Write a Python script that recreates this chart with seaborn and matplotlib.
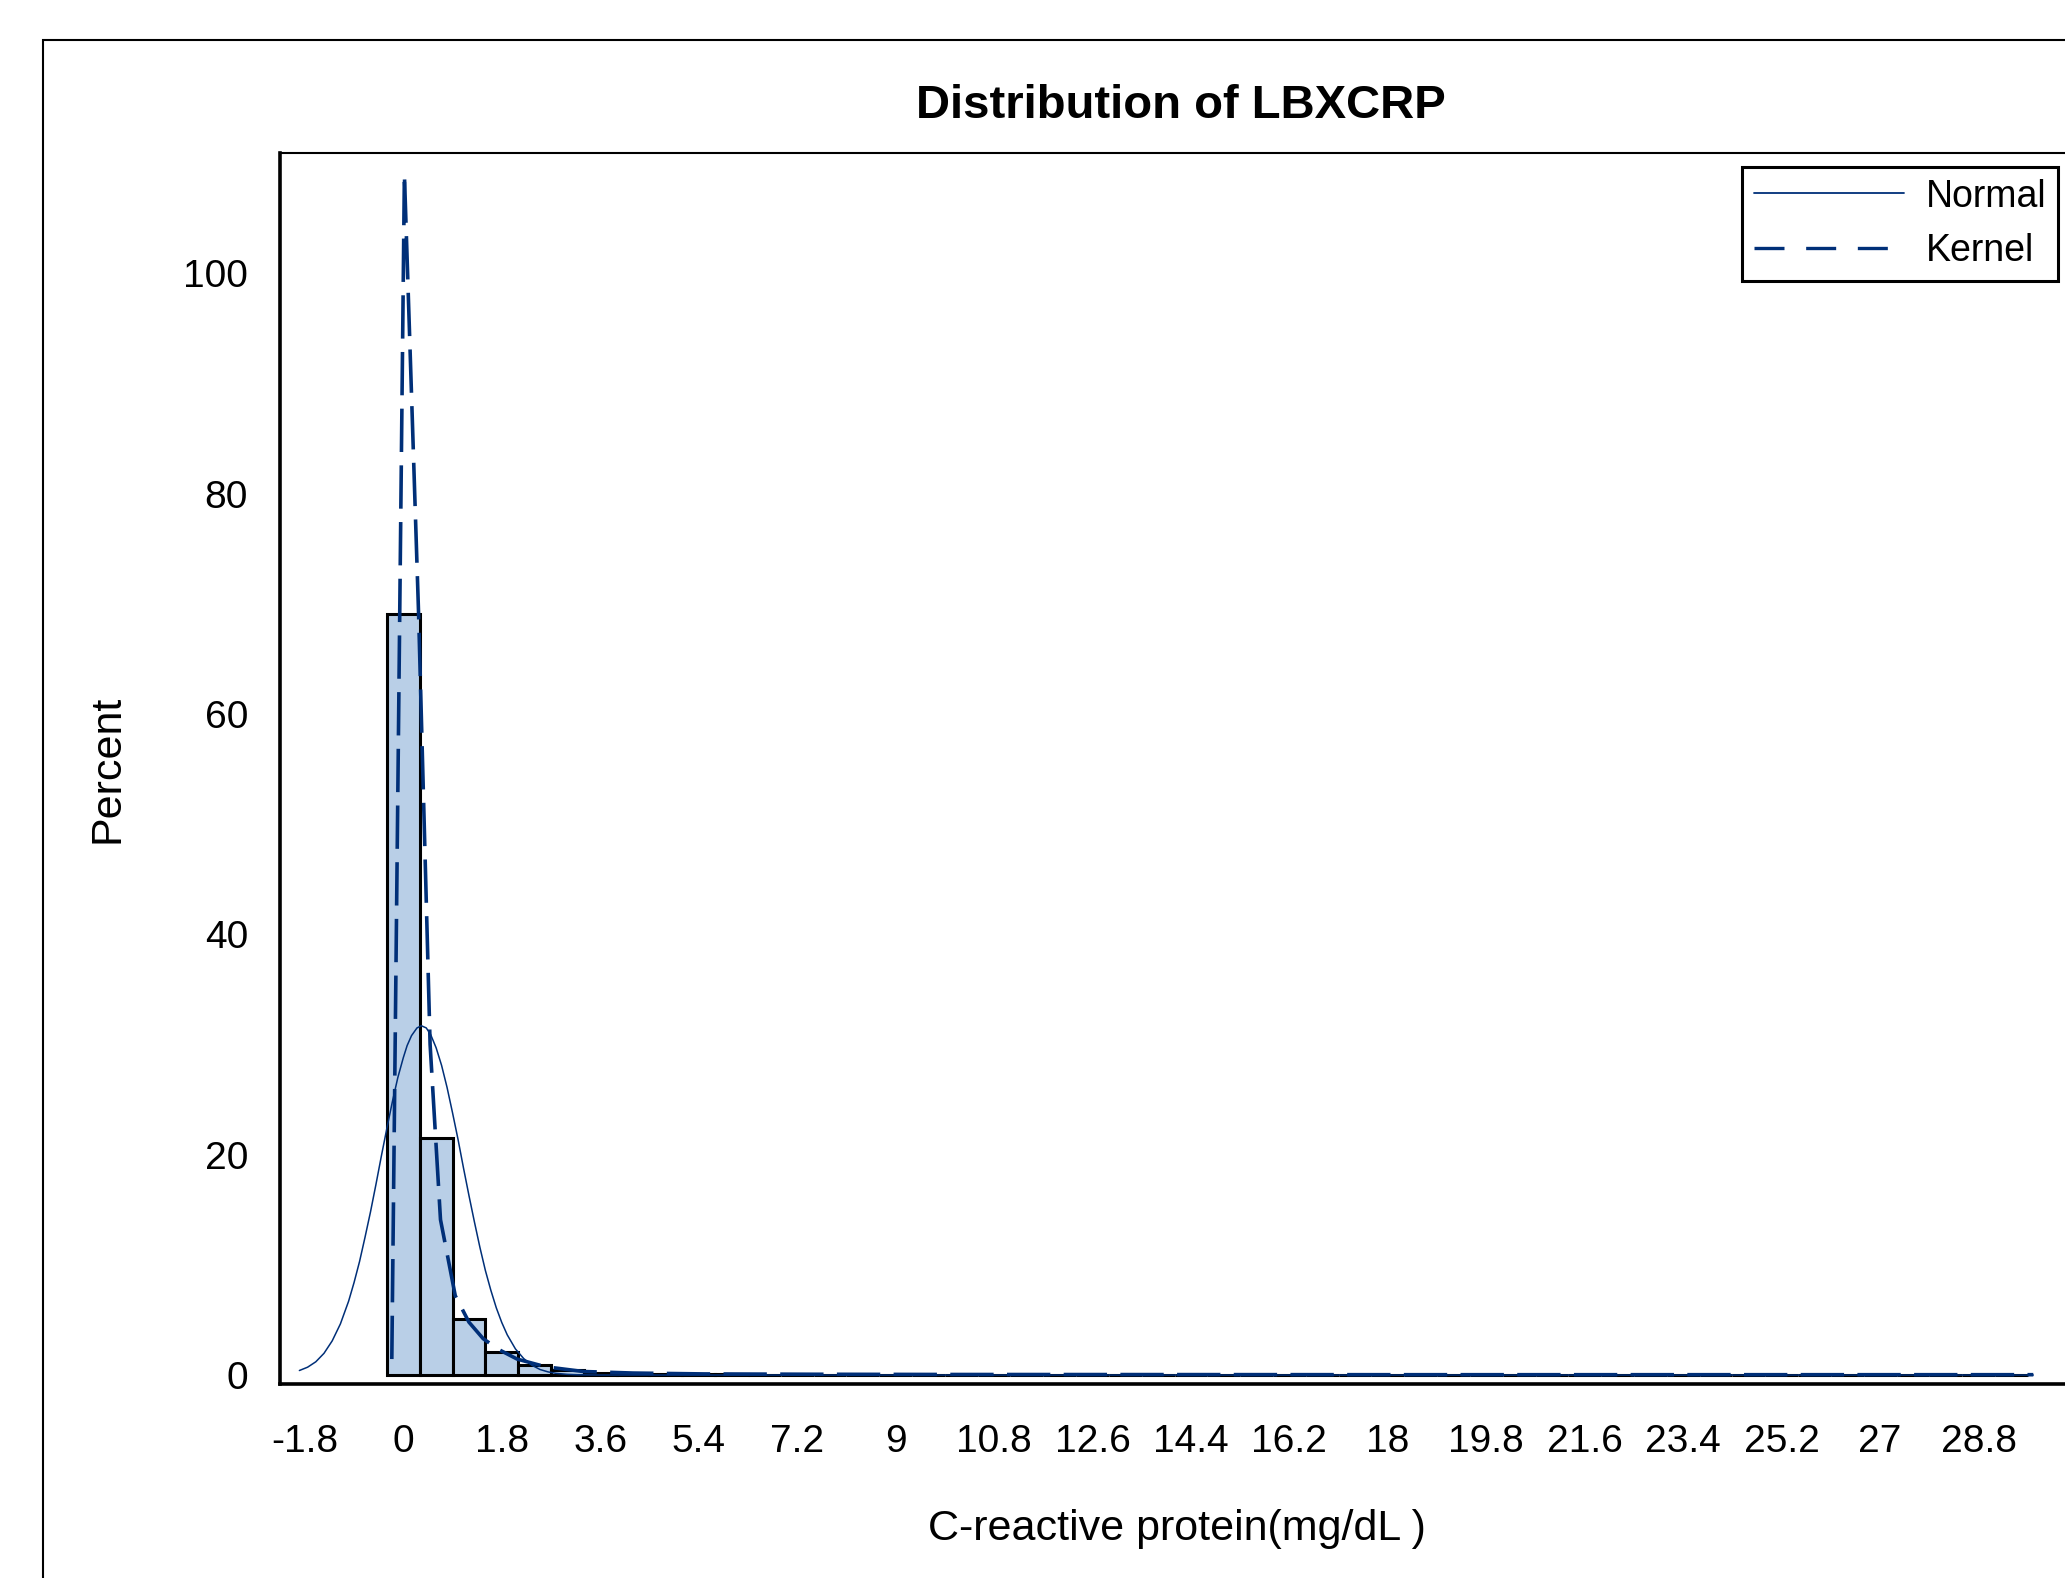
import matplotlib
matplotlib.use("Agg")
import matplotlib.pyplot as plt
import seaborn as sns
import pandas as pd
from matplotlib.lines import Line2D
from matplotlib.patches import Rectangle

# histogram: 0.6 wide bins starting at -0.3 (percent of obs)
bin_start = -0.3
bin_width = 0.6
bin_pct = [69.1, 21.5, 5.1, 2.1, 0.95, 0.42, 0.22, 0.13, 0.09, 0.06,
           0.05, 0.04, 0.03, 0.03, 0.02, 0.02, 0.02, 0.01, 0.01, 0.01,
           0.01, 0.01, 0.01, 0.01, 0.0, 0.01, 0.0, 0.01, 0.0, 0.0,
           0.01, 0.0, 0.0, 0.01, 0.0, 0.0, 0.0, 0.01, 0.0, 0.0,
           0.0, 0.0, 0.01, 0.0, 0.0, 0.0, 0.0, 0.0, 0.0, 0.01]

# fitted curves
normal_x = [-1.9, -1.75, -1.6, -1.45, -1.3, -1.15, -1.0, -0.9, -0.8, -0.7,
            -0.6, -0.5, -0.4, -0.3, -0.2, -0.1, 0.0, 0.07, 0.15, 0.25, 0.33,
            0.42, 0.5, 0.6, 0.7, 0.8, 0.9, 1.0, 1.1, 1.2, 1.3, 1.4, 1.5, 1.6,
            1.7, 1.8, 1.9, 2.05, 2.2, 2.35, 2.5, 2.65, 2.8, 3.0, 3.2, 3.6, 29.8]
normal_y = [0.41, 0.71, 1.2, 1.97, 3.1, 4.64, 6.7, 8.4, 10.3, 12.5,
            14.8, 17.3, 19.9, 22.4, 24.8, 27.0, 28.8, 29.9, 30.8, 31.5, 31.7,
            31.5, 30.9, 29.7, 28.1, 26.1, 23.8, 21.4, 18.8, 16.3, 13.9, 11.6, 9.5, 7.7,
            6.1, 4.77, 3.65, 2.37, 1.5, 0.89, 0.5, 0.28, 0.15, 0.06, 0.02, 0.0, 0.0]
kernel_x = [-0.21, 0.02, 0.28, 0.49, 0.68, 0.95, 1.2, 1.46, 1.75, 2.08, 2.6,
            3.29, 4.2, 5.5, 7.5, 10, 14, 18, 22, 26, 29.8]
kernel_y = [1.45, 109, 69, 30, 14.1, 7.2, 4.8, 3.3, 2.3, 1.45, 0.75,
            0.32, 0.18, 0.1, 0.07, 0.05, 0.04, 0.03, 0.03, 0.03, 0.03]

x_ticks = [-1.8, 0, 1.8, 3.6, 5.4, 7.2, 9, 10.8, 12.6, 14.4, 16.2, 18,
           19.8, 21.6, 23.4, 25.2, 27, 28.8]
y_ticks = [0, 20, 40, 60, 80, 100]

fill_col = "#B9CFE7"
line_col = "#002F78"

sns.set_style("white")
plt.rcParams["font.family"] = ["Liberation Sans", "DejaVu Sans"]
plt.rcParams["text.color"] = "black"
plt.rcParams["xtick.color"] = "black"
plt.rcParams["ytick.color"] = "black"

n_bins = len(bin_pct)
edges = [round(bin_start + bin_width * i, 2) for i in range(n_bins + 1)]
mids = [round(e + bin_width / 2, 2) for e in edges[:-1]]
df = pd.DataFrame({"mid": mids, "pct": bin_pct})

fig = plt.figure(figsize=(20.65, 15.78), dpi=100)
ax = fig.add_axes([0.1356, 0.1229, 0.8644, 0.7801])

sns.histplot(data=df, x="mid", weights="pct", bins=edges, ax=ax,
             color=fill_col, alpha=1, edgecolor="black", linewidth=2.2)

sns.lineplot(x=normal_x, y=normal_y, sort=False, estimator=None, ax=ax,
             color=line_col, linewidth=1.1)
sns.lineplot(x=kernel_x, y=kernel_y, sort=False, estimator=None, ax=ax,
             color=line_col, linewidth=2.6)
ax.lines[-1].set_dashes([12, 3.7])

ax.set_xlim(-2.254, 30.38)
ax.set_ylim(-0.82, 110.9)
ax.set_xticks(x_ticks)
ax.set_xticklabels([f"{t:g}" for t in x_ticks])
ax.set_yticks(y_ticks)
ax.tick_params(axis="both", direction="out", length=15, width=2.2,
               labelsize=28, color="black", labelcolor="black")
ax.tick_params(axis="x", pad=14)
ax.tick_params(axis="y", pad=8)
ax.set_xlabel("")
ax.set_ylabel("")

for side in ["left", "bottom"]:
    ax.spines[side].set_linewidth(2.6)
    ax.spines[side].set_color("black")
ax.spines["top"].set_linewidth(1.5)
ax.spines["top"].set_color("black")
ax.spines["right"].set_visible(False)

fig.text(0.572, 0.933, "Distribution of LBXCRP", ha="center", va="center",
         fontsize=34, fontweight="bold", color="black")
fig.text(0.052, 0.513, "Percent", rotation=90, ha="center", va="center",
         fontsize=31, color="black")
fig.text(0.570, 0.024, "C-reactive protein(mg/dL )", ha="center",
         va="baseline", fontsize=31, color="black")

# outer graph frame (runs off the right and bottom edges)
fig.patches.append(Rectangle((0.0208, -0.2), 1.2, 1.1747,
                             transform=fig.transFigure, fill=False,
                             edgecolor="black", linewidth=1.5))

handles = [
    Line2D([0], [0], color=line_col, linewidth=1.3),
    Line2D([0], [0], color=line_col, linewidth=2.4, dashes=[9, 6.5]),
]
leg = fig.legend(handles, ["Normal", "Kernel"], loc="upper right",
                 bbox_to_anchor=(0.9966, 0.894), borderaxespad=0,
                 fontsize=27, handlelength=4.0, handletextpad=0.6,
                 borderpad=0.3, labelspacing=0.5, fancybox=False,
                 framealpha=1)
leg.get_frame().set_edgecolor("black")
leg.get_frame().set_linewidth(2.2)

plt.savefig("out.png", dpi=100)
plt.close()
